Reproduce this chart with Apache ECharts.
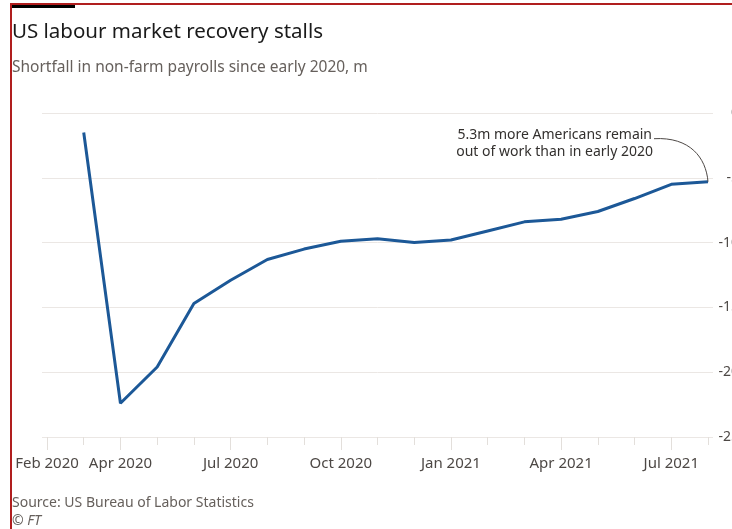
<!DOCTYPE html>
<html>
<head>
<meta charset="utf-8">
<script src="https://cdn.jsdelivr.net/npm/echarts@6/dist/echarts.min.js"></script>
<style>
  html, body { margin: 0; padding: 0; background: #ffffff; overflow: hidden; width: 732px; height: 529px; }
  #chart { width: 770px; height: 529px; }
</style>
</head>
<body>
<div id="chart"></div>
<script>
// ---- data (millions, shortfall vs Feb 2020) ----
const months = ['Feb 2020','Mar 2020','Apr 2020','May 2020','Jun 2020','Jul 2020','Aug 2020','Sep 2020','Oct 2020','Nov 2020','Dec 2020',
                'Jan 2021','Feb 2021','Mar 2021','Apr 2021','May 2021','Jun 2021','Jul 2021','Aug 2021'];
const shortfall = [null, -1.5, -22.4, -19.6, -14.7, -12.9, -11.3, -10.5, -9.9, -9.7, -10.0,
                   -9.8, -9.1, -8.4, -8.2, -7.6, -6.6, -5.5, -5.3];
const yTicks = [0, -5, -10, -15, -20, -25];
const annotationLines = ['5.3m more Americans remain', 'out of work than in early 2020'];
const titleText = 'US labour market recovery stalls';
const subtitleText = 'Shortfall in non-farm payrolls since early 2020, m';
const sourceText = 'Source: US Bureau of Labor Statistics';
const creditText = '© FT';

const FONT = '"Noto Sans", Lato, sans-serif';
const chart = echarts.init(document.getElementById('chart'), null, { renderer: 'canvas' });

const isLabeled = (i) => i === 0 || (i + 1) % 3 === 0;
const gridTop = 113, gridH = 324;
const yMin = yTicks[yTicks.length - 1], yMax = yTicks[0];

const option = {
  backgroundColor: '#ffffff',
  animation: false,
  textStyle: { fontFamily: FONT },
  title: [
    { text: titleText, left: 12, top: 22, padding: 0, textStyle: { fontFamily: FONT, fontSize: 20.5, fontWeight: 'normal', color: '#1a1a1a' } },
    { text: subtitleText, left: 12, top: 60, padding: 0, textStyle: { fontFamily: FONT, fontSize: 15.5, fontWeight: 'normal', color: '#66605c' } },
    { text: sourceText, left: 12, top: 496, padding: 0, textStyle: { fontFamily: FONT, fontSize: 14, fontWeight: 'normal', color: '#66605c' } },
    { text: creditText, left: 12, top: 514, padding: 0, textStyle: { fontFamily: FONT, fontSize: 14, fontWeight: 'normal', fontStyle: 'italic', color: '#66605c' } }
  ],
  grid: [
    { left: 42, width: 671, top: gridTop, height: gridH },
    { left: 47, width: 661, top: gridTop, height: gridH },
    { left: 47, width: 661, top: gridTop, height: gridH }
  ],
  xAxis: [
    { gridIndex: 0, type: 'value', min: 0, max: 1, show: false },
    { gridIndex: 1, type: 'category', position: 'bottom', data: months, boundaryGap: false,
      axisLine: { show: false, onZero: false },
      axisTick: { show: true, length: 8, interval: 0, lineStyle: { color: '#e3dfdb', width: 1 } },
      axisLabel: { show: true, interval: (i) => isLabeled(i), margin: 19, fontFamily: FONT, fontSize: 15, color: '#4d4845' },
      splitLine: { show: false } },
    { gridIndex: 2, type: 'category', position: 'bottom', data: months, boundaryGap: false,
      axisLine: { show: false, onZero: false },
      axisTick: { show: true, length: 13, interval: (i) => isLabeled(i), lineStyle: { color: '#e3dfdb', width: 1 } },
      axisLabel: { show: false },
      splitLine: { show: false } }
  ],
  yAxis: [
    { gridIndex: 0, type: 'value', position: 'right', min: yMin, max: yMax, interval: 5,
      axisLine: { show: false }, axisTick: { show: false },
      axisLabel: { show: true, margin: 26, align: 'right', fontFamily: FONT, fontSize: 14, color: '#4d4845' },
      splitLine: { show: true, lineStyle: { color: '#ebe7e4', width: 1 } } },
    { gridIndex: 1, type: 'value', min: yMin, max: yMax, show: false },
    { gridIndex: 2, type: 'value', min: yMin, max: yMax, show: false }
  ],
  series: [
    { type: 'line', xAxisIndex: 1, yAxisIndex: 1, data: shortfall, showSymbol: false, symbol: 'none',
      lineStyle: { color: '#1c5897', width: 3 }, connectNulls: false }
  ],
  graphic: []
};
chart.setOption(option);

// Annotation derived from the last data point through the chart's scales
const lastIdx = shortfall.length - 1;
const p = chart.convertToPixel({ xAxisIndex: 1, yAxisIndex: 1 }, [lastIdx, shortfall[lastIdx]]);
chart.setOption({
  graphic: [
    { type: 'rect', shape: { x: 10, y: 3, width: 2, height: 530 }, style: { fill: '#b01e1e' }, z: 100 },
    { type: 'rect', shape: { x: 10, y: 3, width: 760, height: 2 }, style: { fill: '#b01e1e' }, z: 100 },
    { type: 'rect', shape: { x: 12, y: 5, width: 63, height: 3 }, style: { fill: '#000000' }, z: 100 },
    { type: 'text', x: p[0] - 56, y: p[1] - 47, style: { text: annotationLines[0], align: 'right', verticalAlign: 'middle', font: '14px ' + FONT, fill: '#33302e' }, z: 50 },
    { type: 'text', x: p[0] - 55, y: p[1] - 30, style: { text: annotationLines[1], align: 'right', verticalAlign: 'middle', font: '14px ' + FONT, fill: '#33302e' }, z: 50 },
    { type: 'bezierCurve', shape: { x1: p[0] - 54, y1: p[1] - 43, cpx1: p[0] - 18, cpy1: p[1] - 45, cpx2: p[0] - 2, cpy2: p[1] - 24, x2: p[0], y2: p[1] },
      style: { stroke: '#4d4845', lineWidth: 1, fill: null }, z: 50 }
  ]
});
</script>
</body>
</html>
